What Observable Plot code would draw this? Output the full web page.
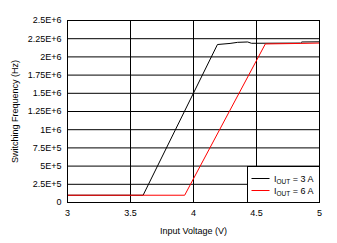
<!DOCTYPE html>
<html>
<head>
<meta charset="utf-8">
<script src="https://cdn.jsdelivr.net/npm/d3@7"></script>
<script src="https://cdn.jsdelivr.net/npm/@observablehq/plot@0.6"></script>
<style>
  html, body { margin: 0; padding: 0; background: #fff; }
  svg { display: block; }
</style>
</head>
<body>
<div id="chart"></div>
<script>
// Series: I_OUT = 3 A (black)
const vin3A = [3.0, 3.6, 4.19, 4.29, 4.35, 4.43, 4.46, 4.85, 4.86, 5.0];
const fsw3A = [1.0e5, 1.0e5, 2.17e6, 2.185e6, 2.2e6, 2.205e6, 2.187e6, 2.19e6, 2.205e6, 2.207e6];
// Series: I_OUT = 6 A (red)
const vin6A = [3.0, 3.93, 4.57, 4.85, 5.0];
const fsw6A = [1.0e5, 1.0e5, 2.178e6, 2.185e6, 2.19e6];

const xTicks = [3, 3.5, 4, 4.5, 5];
const xTickLabels = ["3", "3.5", "4", "4.5", "5"];
const yTicks = [0, 2.5e5, 5e5, 7.5e5, 1e6, 1.25e6, 1.5e6, 1.75e6, 2e6, 2.25e6, 2.5e6];
const yTickLabels = ["0", "2.5E+5", "5E+5", "7.5E+5", "1E+6", "1.25E+6", "1.5E+6", "1.75E+6", "2E+6", "2.25E+6", "2.5E+6"];

const seriesNames = ["3 A", "6 A"];
const seriesColors = ["#000000", "#ff0000"];

const data3 = vin3A.map((v, i) => ({x: v, y: fsw3A[i]}));
const data6 = vin6A.map((v, i) => ({x: v, y: fsw6A[i]}));

const chart = Plot.plot({
  width: 337,
  height: 243,
  marginLeft: 67,
  marginRight: 18,
  marginTop: 20,
  marginBottom: 41,
  style: {fontFamily: "'Liberation Sans', Arial, sans-serif", fontSize: "9px", color: "#000", background: "#fff"},
  x: {domain: [3, 5]},
  y: {domain: [0, 2.5e6]},
  marks: [
    Plot.gridX(xTicks, {stroke: "#000", strokeOpacity: 1, strokeWidth: 1}),
    Plot.gridY(yTicks, {stroke: "#000", strokeOpacity: 1, strokeWidth: 1}),
    Plot.axisX(xTicks, {tickSize: 0, tickPadding: 7, tickFormat: (d, i) => xTickLabels[i],
      label: "Input Voltage (V)", labelAnchor: "center", labelArrow: "none", labelOffset: 31}),
    Plot.axisY(yTicks, {tickSize: 0, tickPadding: 6, tickFormat: (d, i) => yTickLabels[i],
      label: "Switching Frequency (Hz)", labelAnchor: "center", labelArrow: "none", labelOffset: 56}),
    Plot.line(data3, {x: "x", y: "y", stroke: seriesColors[0], strokeWidth: 1}),
    Plot.line(data6, {x: "x", y: "y", stroke: seriesColors[1], strokeWidth: 1}),
    Plot.frame({stroke: "#000", strokeWidth: 1})
  ]
});

document.getElementById("chart").appendChild(chart);

// Legend inside the plot frame (bottom-right corner)
const sx = chart.scale("x"), sy = chart.scale("y");
const right = sx.apply(5), bottom = sy.apply(0);
const lw = 72, lh = 36;
const svg = d3.select(chart);
const g = svg.append("g")
  .attr("font-family", "'Liberation Sans', Arial, sans-serif")
  .attr("font-size", 9)
  .attr("text-anchor", "start");
g.append("rect")
  .attr("x", right - lw + 0.5).attr("y", bottom - lh + 0.5)
  .attr("width", lw).attr("height", lh)
  .attr("fill", "#fff").attr("stroke", "#000").attr("stroke-width", 1);
seriesNames.forEach((name, i) => {
  const yy = bottom - lh + 12 + i * 12 + 0.5;
  g.append("line")
    .attr("x1", right - lw + 4.5).attr("x2", right - lw + 22.5)
    .attr("y1", yy).attr("y2", yy)
    .attr("stroke", seriesColors[i]).attr("stroke-width", 1);
  const t = g.append("text").attr("x", right - lw + 27).attr("y", yy + 3.5).attr("fill", "#000");
  t.append("tspan").text("I");
  t.append("tspan").attr("font-size", 6.5).attr("dy", 1.5).text("OUT");
  t.append("tspan").attr("dy", -1.5).text(" = " + name);
});
</script>
</body>
</html>
